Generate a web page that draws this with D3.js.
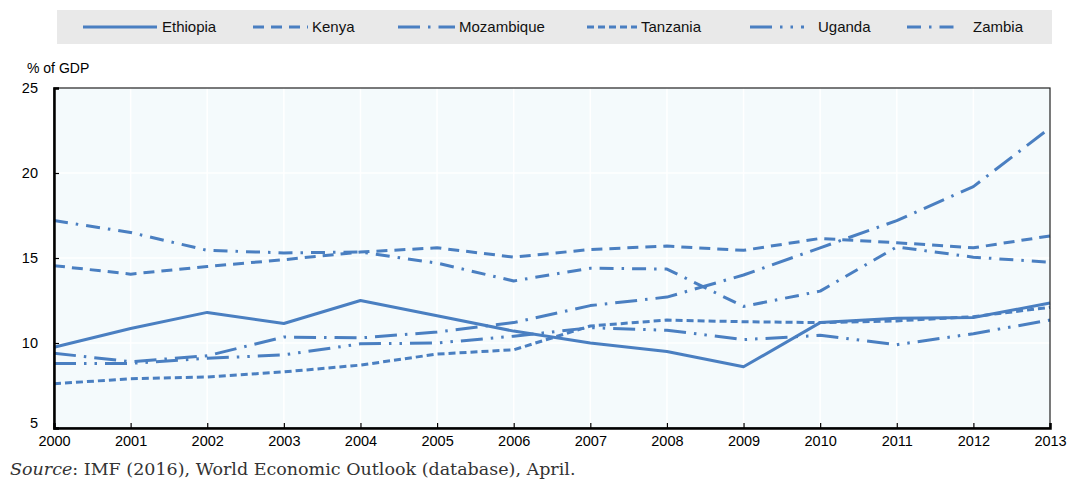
<!DOCTYPE html>
<html>
<head>
<meta charset="utf-8">
<script src="https://cdn.jsdelivr.net/npm/d3@7"></script>
<style>
  body { margin: 0; background: #fff; }
  svg { display: block; }
</style>
</head>
<body>
<svg id="chart" width="1069" height="481"></svg>
<script>
const years = [2000, 2001, 2002, 2003, 2004, 2005, 2006, 2007, 2008, 2009, 2010, 2011, 2012, 2013];
const yTicks = [5, 10, 15, 20, 25];

const ethiopia   = [9.75, 10.85, 11.8, 11.15, 12.5, 11.6, 10.7, 10.0, 9.5, 8.6, 11.2, 11.45, 11.5, 12.35];
const kenya      = [14.55, 14.05, 14.5, 14.9, 15.35, 15.6, 15.05, 15.5, 15.7, 15.45, 16.15, 15.9, 15.6, 16.3];
const mozambique = [9.4, 8.9, 9.25, 10.35, 10.3, 10.65, 11.2, 12.2, 12.7, 14.0, 15.6, 17.2, 19.2, 22.65];
const tanzania   = [7.6, 7.9, 8.0, 8.3, 8.7, 9.35, 9.6, 11.0, 11.35, 11.25, 11.2, 11.3, 11.55, 12.1];
const uganda     = [8.8, 8.8, 9.1, 9.3, 9.95, 10.0, 10.4, 10.9, 10.75, 10.2, 10.45, 9.9, 10.55, 11.35];
const zambia     = [17.2, 16.5, 15.45, 15.3, 15.35, 14.7, 13.65, 14.4, 14.35, 12.15, 13.05, 15.65, 15.05, 14.75];

const series = [
    { name: "Ethiopia",   values: ethiopia,   dash: null },
    { name: "Kenya",      values: kenya,      dash: "11,7" },
    { name: "Mozambique", values: mozambique, dash: "22,8,2.5,8" },
    { name: "Tanzania",   values: tanzania,   dash: "7,4" },
    { name: "Uganda",     values: uganda,     dash: "22,8,2.5,8,2.5,8" },
    { name: "Zambia",     values: zambia,     dash: "14,8,2.5,8" },
];

// legend positions (swatch start, swatch end, text x)
const legendPos = [
    [83, 157, 162],
    [253, 308, 312],
    [398, 455, 459],
    [587, 637, 641],
    [750, 804, 818],
    [907, 957, 973],
];

const lineColor = "#4a7fc1";
const sans = "Liberation Sans, Arial, sans-serif";
const svg = d3.select("#chart");

const margin = { left: 54, right: 1050, top: 88, bottom: 428 };

const x = d3.scaleLinear().domain([2000, 2013]).range([margin.left, margin.right]);
const y = d3.scaleLinear().domain([5, 25]).range([margin.bottom, margin.top]);

// legend box
svg.append("rect")
    .attr("x", 57).attr("y", 10)
    .attr("width", 995).attr("height", 34)
    .attr("fill", "#e9e9e9");

const legend = svg.append("g").selectAll("g")
    .data(series)
    .join("g");

legend.append("line")
    .attr("x1", (d, i) => legendPos[i][0])
    .attr("x2", (d, i) => legendPos[i][1])
    .attr("y1", 27).attr("y2", 27)
    .attr("stroke", lineColor)
    .attr("stroke-width", 3)
    .attr("stroke-dasharray", d => d.dash);

legend.append("text")
    .attr("x", (d, i) => legendPos[i][2])
    .attr("y", 32)
    .attr("font-family", sans)
    .attr("font-size", 15)
    .attr("fill", "#111")
    .text(d => d.name);

// plot background
svg.append("rect")
    .attr("x", margin.left).attr("y", margin.top)
    .attr("width", margin.right - margin.left)
    .attr("height", margin.bottom - margin.top)
    .attr("fill", "#f4fafc");

// grid
svg.append("g").selectAll("line")
    .data(years.slice(1, -1))
    .join("line")
    .attr("x1", d => x(d)).attr("x2", d => x(d))
    .attr("y1", margin.top).attr("y2", margin.bottom)
    .attr("stroke", "#fff").attr("stroke-width", 1.5);

svg.append("g").selectAll("line")
    .data(yTicks.slice(1, -1))
    .join("line")
    .attr("x1", margin.left).attr("x2", margin.right)
    .attr("y1", d => y(d)).attr("y2", d => y(d))
    .attr("stroke", "#fff").attr("stroke-width", 1.5);

// lines
const line = d3.line()
    .x((d, i) => x(years[i]))
    .y(d => y(d));

svg.append("g").selectAll("path")
    .data(series)
    .join("path")
    .attr("d", d => line(d.values))
    .attr("fill", "none")
    .attr("stroke", lineColor)
    .attr("stroke-width", 3)
    .attr("stroke-linejoin", "round")
    .attr("stroke-dasharray", d => d.dash);

// frame
svg.append("rect")
    .attr("x", margin.left).attr("y", margin.top)
    .attr("width", margin.right - margin.left)
    .attr("height", margin.bottom - margin.top)
    .attr("fill", "none")
    .attr("stroke", "#222").attr("stroke-width", 1.2);

// axes
const xAxis = d3.axisBottom(x)
    .tickValues(years)
    .tickFormat(d3.format("d"))
    .tickSize(-5)
    .tickPadding(8);

const gx = svg.append("g")
    .attr("transform", `translate(0,${margin.bottom})`)
    .call(xAxis);
gx.select(".domain").attr("stroke", "#000").attr("stroke-width", 2.5);
gx.selectAll(".tick line").attr("stroke", "#000").attr("stroke-width", 1.2);
gx.selectAll("text")
    .attr("font-family", sans)
    .attr("font-size", 14.5)
    .attr("fill", "#000");

const yAxis = d3.axisLeft(y)
    .tickValues(yTicks)
    .tickSize(-5)
    .tickPadding(16);

const gy = svg.append("g")
    .attr("transform", `translate(${margin.left},0)`)
    .call(yAxis);
gy.select(".domain").attr("stroke", "#000").attr("stroke-width", 2.5);
gy.selectAll(".tick line").attr("stroke", "#000").attr("stroke-width", 1.2);
gy.selectAll("text")
    .attr("font-family", sans)
    .attr("font-size", 14.5)
    .attr("fill", "#000");
gy.selectAll(".tick").filter(d => d === 5).select("text").attr("dy", "-0.05em");

svg.append("text")
    .attr("x", 27).attr("y", 73)
    .attr("font-family", sans)
    .attr("font-size", 14)
    .attr("fill", "#000")
    .text("% of GDP");

// source note
const note = svg.append("text")
    .attr("x", 10).attr("y", 475)
    .attr("font-family", "DejaVu Serif, serif")
    .attr("font-size", 17.5)
    .attr("fill", "#333");
note.append("tspan").attr("font-style", "italic").text("Source");
note.append("tspan").text(": IMF (2016), World Economic Outlook (database), April.");
</script>
</body>
</html>
